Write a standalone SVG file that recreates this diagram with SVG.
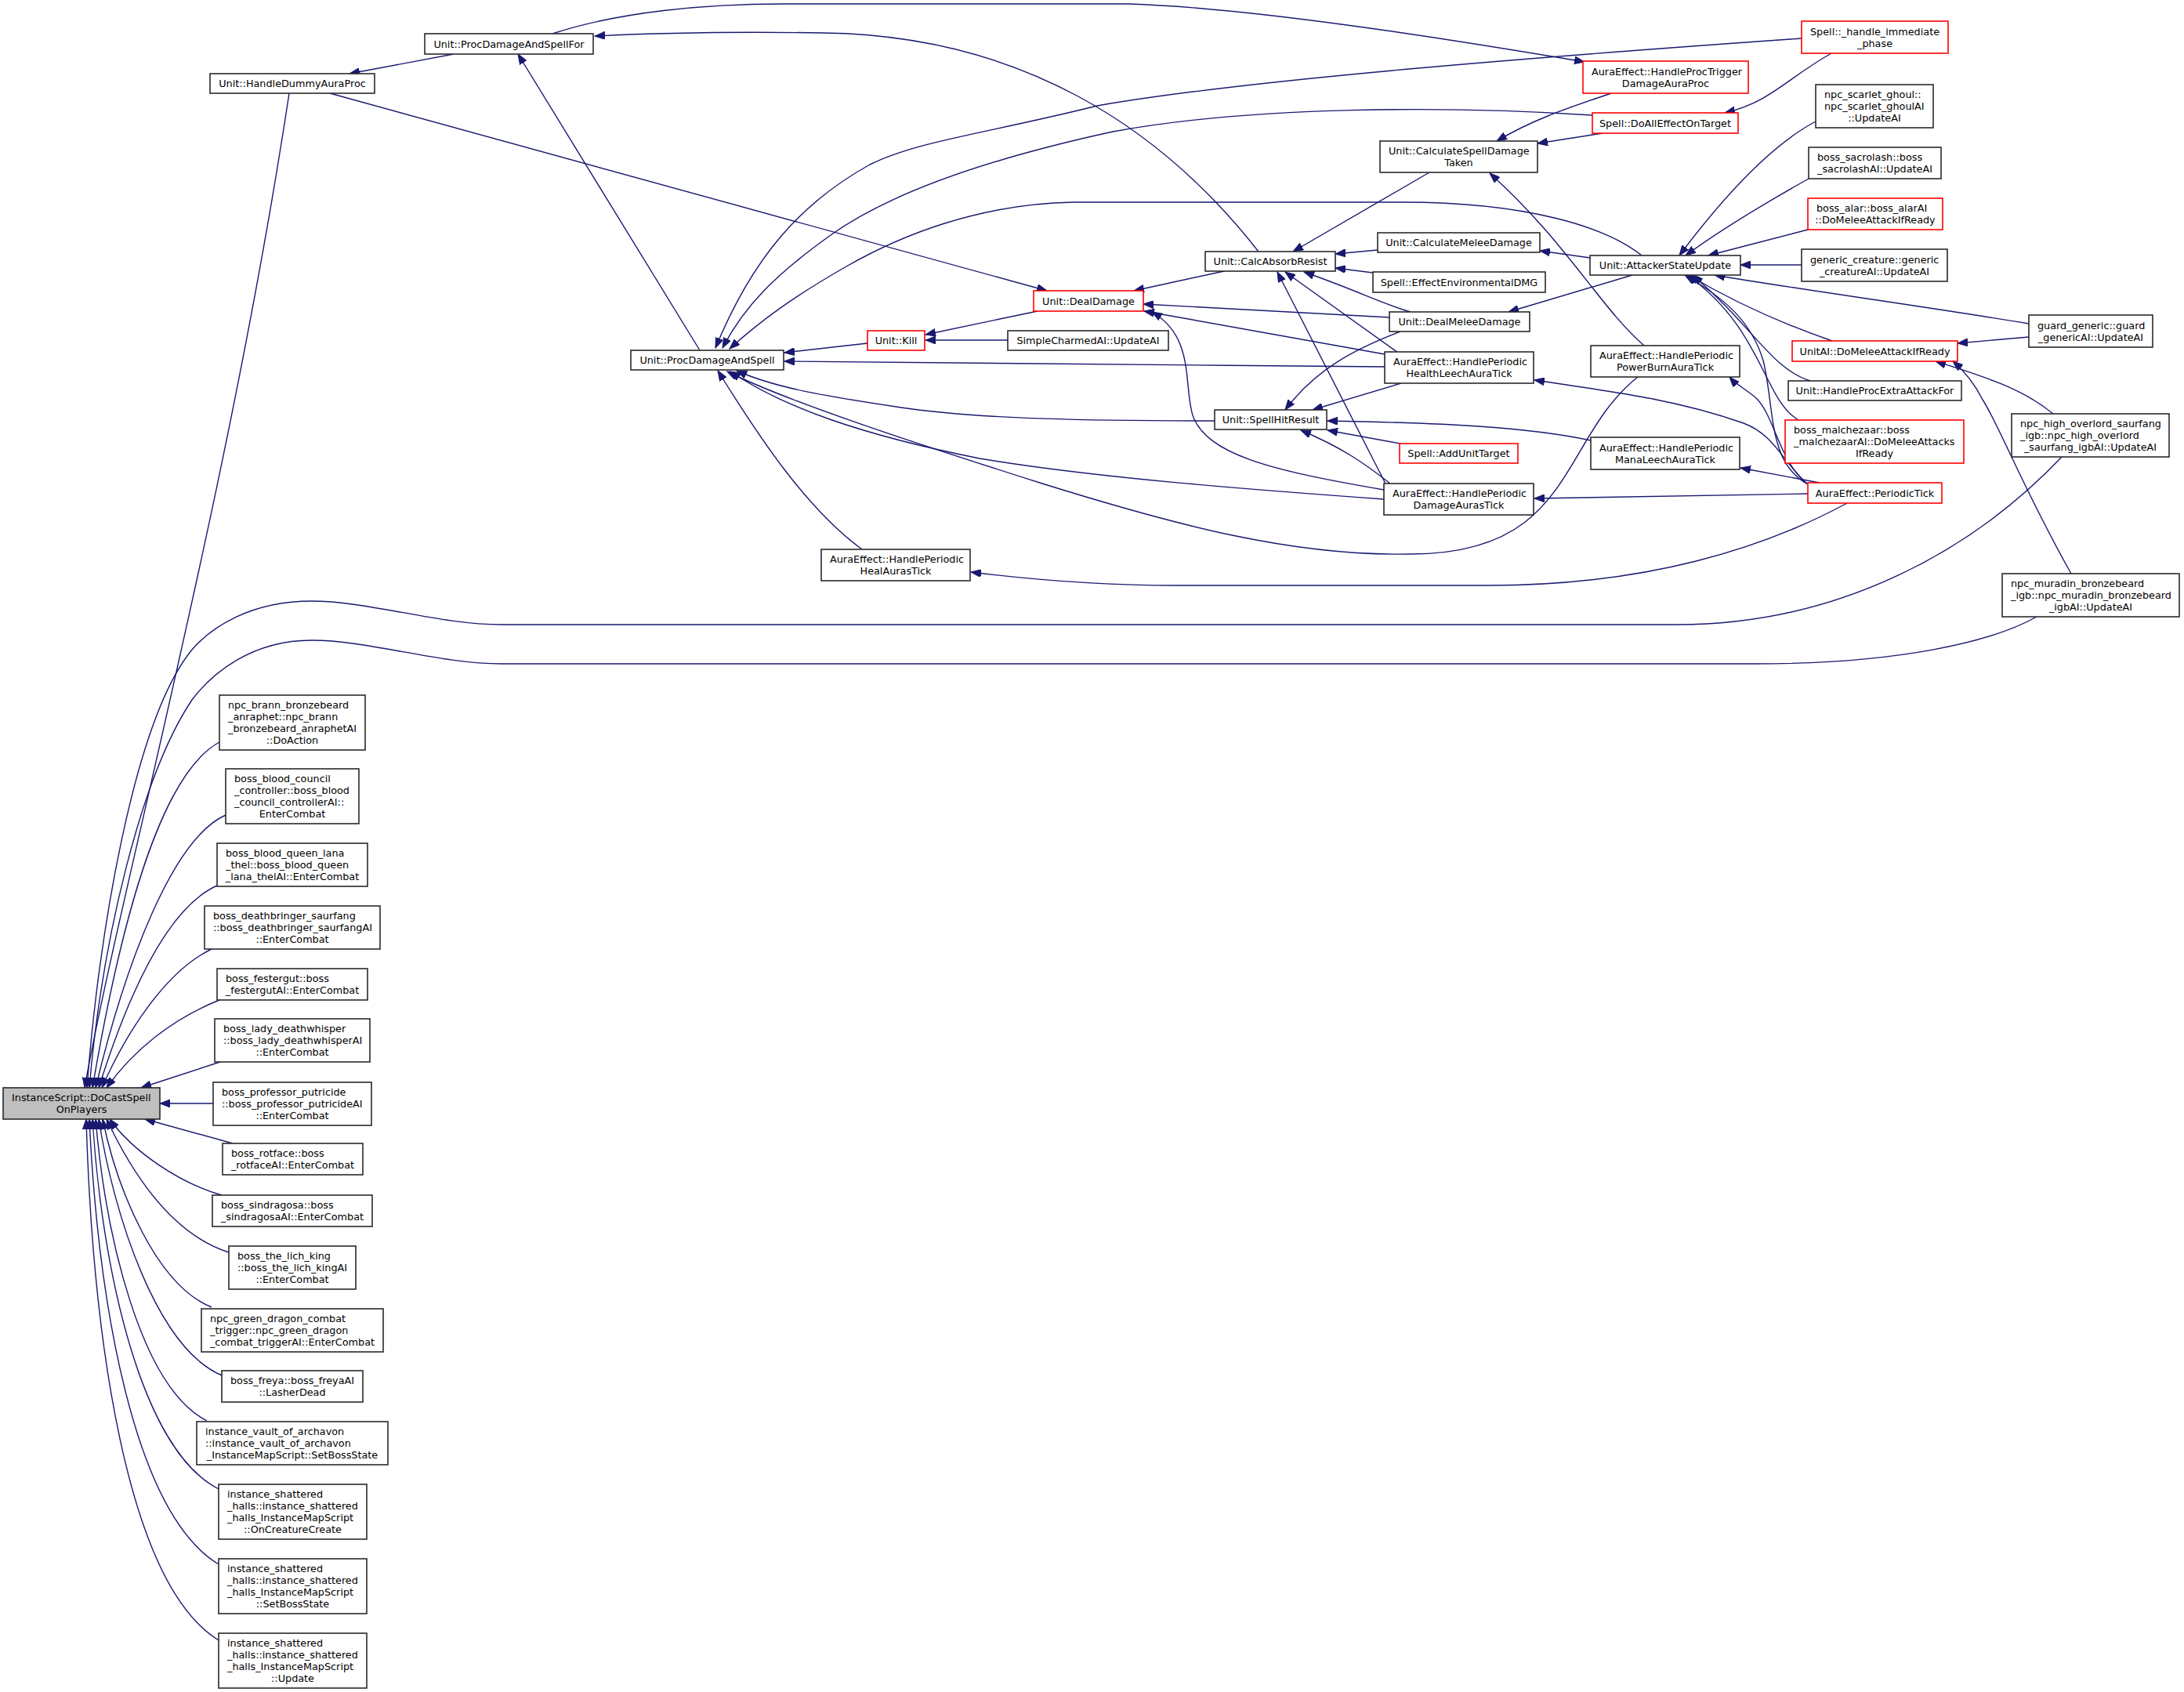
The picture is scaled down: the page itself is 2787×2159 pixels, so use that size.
<svg xmlns="http://www.w3.org/2000/svg" width="2787" height="2159" viewBox="0 0 2787 2159">
<style>
.n rect{fill:#fff;stroke:#2a2a2a;stroke-width:1.6}
.r rect{stroke:#ff0000}
.g rect{fill:#bfbfbf}
text{font-family:"DejaVu Sans","Liberation Sans",sans-serif;font-size:12.8px;fill:#000}
.c{text-anchor:middle}
#edges path{fill:none;stroke:#191970;stroke-width:1.4;marker-end:url(#a)}
</style>
<defs>
<marker id="a" markerWidth="14" markerHeight="10" refX="13" refY="5" orient="auto" markerUnits="userSpaceOnUse">
<path d="M0,0 L13,5 L0,10 z" fill="#191970" stroke="#191970" stroke-width="1"/>
</marker>
</defs>
<rect width="2787" height="2159" fill="#fff"/>
<g id="edges">
<path d="M369,119 C290,640 150,1150 108,1388"/>
<path d="M2631,583 C2520,700 2350,797 2140,797 L640,797 C560,797 470,767 398,767 C320,767 270,800 245,829 C170,920 125,1200 111,1388"/>
<path d="M2599,787 C2540,820 2420,847 2240,847 L640,847 C560,847 470,817 398,817 C320,817 270,860 245,893 C180,990 130,1200 114,1388"/>
<path d="M280,947 C200,990 150,1200 118,1388"/>
<path d="M288,1040 C220,1070 160,1230 122,1388"/>
<path d="M277,1130 C210,1160 160,1280 126,1388"/>
<path d="M270,1211 C210,1240 160,1320 130,1388"/>
<path d="M280,1276 C220,1300 170,1340 136,1388"/>
<path d="M281,1355 L180,1388"/>
<path d="M272,1408 L204,1408"/>
<path d="M297,1459 L185,1428"/>
<path d="M283,1525 C230,1510 170,1470 140,1428"/>
<path d="M292,1598 C220,1575 170,1500 136,1428"/>
<path d="M270,1668 C200,1640 150,1520 131,1428"/>
<path d="M283,1755 C200,1720 145,1550 126,1428"/>
<path d="M264,1813 C180,1770 135,1580 122,1428"/>
<path d="M279,1900 C180,1850 130,1620 118,1428"/>
<path d="M279,1996 C170,1930 125,1660 114,1428"/>
<path d="M279,2093 C160,2020 118,1700 110,1428"/>
<path d="M579,69 L446,94"/>
<path d="M705,43 C790,15 900,5 1000,5 L1440,5 C1600,10 1850,50 2022,79"/>
<path d="M1606,321 C1480,160 1300,45 1050,42 C920,40 840,42 759,46"/>
<path d="M893,447 L661,69"/>
<path d="M421,119 L1336,371"/>
<path d="M2299,49 C2000,70 1600,100 1400,135 C1260,170 1170,180 1110,210 C1020,260 960,330 913,444"/>
<path d="M2032,147 C1850,135 1600,135 1420,168 C1250,205 1130,250 1060,300 C990,350 950,390 922,444"/>
<path d="M2095,326 C2050,290 1950,258 1790,258 L1370,258 C1250,260 1150,300 1080,340 C1010,380 970,410 931,445"/>
<path d="M1107,438 L1001,450"/>
<path d="M1767,468 C1500,466 1200,462 1001,461"/>
<path d="M1550,537 C1400,537 1250,535 1150,520 C1050,505 990,495 940,473"/>
<path d="M1766,637 C1600,625 1400,610 1250,585 C1100,555 1000,520 932,474"/>
<path d="M2090,481 C1990,560 2010,707 1800,707 C1650,710 1500,670 1330,617 C1150,560 1000,510 928,474"/>
<path d="M1100,701 C1030,650 970,560 916,473"/>
<path d="M1324,397 L1181,427"/>
<path d="M1286,434 L1181,434"/>
<path d="M1562,346 L1447,371"/>
<path d="M1773,405 L1459,388"/>
<path d="M1767,452 L1460,397"/>
<path d="M1766,625 C1620,600 1540,580 1522,530 C1510,490 1525,430 1470,398"/>
<path d="M1824,220 L1650,321"/>
<path d="M1758,319 L1704,324"/>
<path d="M1752,348 L1704,342"/>
<path d="M1800,398 C1770,390 1730,370 1664,347"/>
<path d="M1784,450 L1640,347"/>
<path d="M1768,617 L1630,347"/>
<path d="M1787,423 C1730,445 1680,470 1640,523"/>
<path d="M1788,489 L1675,523"/>
<path d="M2030,562 C1950,545 1850,540 1694,537"/>
<path d="M1787,566 L1694,549"/>
<path d="M1774,617 C1740,590 1710,570 1660,549"/>
<path d="M2098,441 C2040,390 2000,310 1901,221"/>
<path d="M2056,119 C2010,135 1960,150 1910,180"/>
<path d="M2045,170 L1962,183"/>
<path d="M2337,68 C2280,100 2260,130 2201,144"/>
<path d="M2029,329 L1965,320"/>
<path d="M2083,351 L1925,398"/>
<path d="M2317,155 C2260,185 2200,250 2143,326"/>
<path d="M2308,228 C2260,255 2200,290 2151,326"/>
<path d="M2307,293 L2180,326"/>
<path d="M2299,338 L2221,338"/>
<path d="M2589,413 C2450,390 2300,370 2188,351"/>
<path d="M2338,435 C2280,415 2220,390 2155,351"/>
<path d="M2310,486 C2260,470 2240,420 2160,351"/>
<path d="M2295,536 C2250,510 2250,420 2153,351"/>
<path d="M2307,618 C2255,590 2265,520 2250,460 C2235,410 2200,380 2150,351"/>
<path d="M2307,618 C2270,590 2265,530 2240,507 C2225,495 2215,490 2207,481"/>
<path d="M2307,618 C2275,590 2265,555 2225,540 C2140,510 2060,500 1958,485"/>
<path d="M2322,616 L2221,597"/>
<path d="M2307,630 L1958,636"/>
<path d="M2357,642 C2250,700 2100,747 1900,747 L1500,747 C1400,747 1320,740 1239,730"/>
<path d="M2589,430 L2498,438"/>
<path d="M2620,528 C2580,495 2530,480 2470,461"/>
<path d="M2643,732 C2580,620 2550,540 2530,510 C2520,490 2505,472 2492,461"/>
</g>
<g id="n1" class="n g"><rect x="4" y="1388" width="200" height="40"/><text x="15" y="1405.1">InstanceScript::DoCastSpell</text><text class="c" x="104" y="1420.1">OnPlayers</text></g>
<g id="n2" class="n"><rect x="268" y="94" width="210" height="25"/><text class="c" x="373" y="111.1">Unit::HandleDummyAuraProc</text></g>
<g id="n3" class="n"><rect x="542" y="43" width="215" height="26"/><text class="c" x="649.5" y="60.6">Unit::ProcDamageAndSpellFor</text></g>
<g id="n4" class="n"><rect x="805" y="447" width="195" height="25"/><text class="c" x="902.5" y="464.1">Unit::ProcDamageAndSpell</text></g>
<g id="n5" class="n r"><rect x="2020" y="78" width="211" height="41"/><text x="2031" y="95.6">AuraEffect::HandleProcTrigger</text><text class="c" x="2125.5" y="110.6">DamageAuraProc</text></g>
<g id="n6" class="n r"><rect x="2299" y="27" width="187" height="41"/><text x="2310" y="44.6">Spell::_handle_immediate</text><text class="c" x="2392.5" y="59.6">_phase</text></g>
<g id="n7" class="n r"><rect x="2032" y="144" width="186" height="26"/><text class="c" x="2125" y="161.6">Spell::DoAllEffectOnTarget</text></g>
<g id="n8" class="n"><rect x="1761" y="180" width="201" height="40"/><text x="1772" y="197.1">Unit::CalculateSpellDamage</text><text class="c" x="1861.5" y="212.1">Taken</text></g>
<g id="n9" class="n"><rect x="1538" y="321" width="166" height="25"/><text class="c" x="1621" y="338.1">Unit::CalcAbsorbResist</text></g>
<g id="n10" class="n"><rect x="1758" y="297" width="207" height="25"/><text class="c" x="1861.5" y="314.1">Unit::CalculateMeleeDamage</text></g>
<g id="n11" class="n"><rect x="1752" y="347" width="220" height="26"/><text class="c" x="1862" y="364.6">Spell::EffectEnvironmentalDMG</text></g>
<g id="n12" class="n r"><rect x="1319" y="371" width="140" height="26"/><text class="c" x="1389" y="388.6">Unit::DealDamage</text></g>
<g id="n13" class="n r"><rect x="1107" y="422" width="73" height="25"/><text class="c" x="1143.5" y="439.1">Unit::Kill</text></g>
<g id="n14" class="n"><rect x="1286" y="422" width="205" height="25"/><text class="c" x="1388.5" y="439.1">SimpleCharmedAI::UpdateAI</text></g>
<g id="n15" class="n"><rect x="1773" y="398" width="179" height="25"/><text class="c" x="1862.5" y="415.1">Unit::DealMeleeDamage</text></g>
<g id="n16" class="n"><rect x="1767" y="449" width="190" height="40"/><text x="1778" y="466.1">AuraEffect::HandlePeriodic</text><text class="c" x="1862" y="481.1">HealthLeechAuraTick</text></g>
<g id="n17" class="n"><rect x="1550" y="523" width="143" height="25"/><text class="c" x="1621.5" y="540.1">Unit::SpellHitResult</text></g>
<g id="n18" class="n r"><rect x="1786" y="566" width="151" height="25"/><text class="c" x="1861.5" y="583.1">Spell::AddUnitTarget</text></g>
<g id="n19" class="n"><rect x="1766" y="617" width="191" height="40"/><text x="1777" y="634.1">AuraEffect::HandlePeriodic</text><text class="c" x="1861.5" y="649.1">DamageAurasTick</text></g>
<g id="n20" class="n"><rect x="1048" y="701" width="190" height="40"/><text x="1059" y="718.1">AuraEffect::HandlePeriodic</text><text class="c" x="1143" y="733.1">HealAurasTick</text></g>
<g id="n21" class="n"><rect x="2030" y="441" width="190" height="40"/><text x="2041" y="458.1">AuraEffect::HandlePeriodic</text><text class="c" x="2125" y="473.1">PowerBurnAuraTick</text></g>
<g id="n22" class="n"><rect x="2030" y="558" width="190" height="41"/><text x="2041" y="575.6">AuraEffect::HandlePeriodic</text><text class="c" x="2125" y="590.6">ManaLeechAuraTick</text></g>
<g id="n23" class="n r"><rect x="2307" y="616" width="171" height="26"/><text class="c" x="2392.5" y="633.6">AuraEffect::PeriodicTick</text></g>
<g id="n24" class="n"><rect x="2029" y="326" width="192" height="25"/><text class="c" x="2125" y="343.1">Unit::AttackerStateUpdate</text></g>
<g id="n25" class="n"><rect x="2317" y="108" width="150" height="55"/><text x="2328" y="125.1">npc_scarlet_ghoul::</text><text x="2328" y="140.1">npc_scarlet_ghoulAI</text><text class="c" x="2392" y="155.1">::UpdateAI</text></g>
<g id="n26" class="n"><rect x="2308" y="188" width="169" height="40"/><text x="2319" y="205.1">boss_sacrolash::boss</text><text class="c" x="2392.5" y="220.1">_sacrolashAI::UpdateAI</text></g>
<g id="n27" class="n r"><rect x="2307" y="253" width="172" height="40"/><text x="2318" y="270.1">boss_alar::boss_alarAI</text><text class="c" x="2393" y="285.1">::DoMeleeAttackIfReady</text></g>
<g id="n28" class="n"><rect x="2299" y="318" width="186" height="41"/><text x="2310" y="335.6">generic_creature::generic</text><text class="c" x="2392" y="350.6">_creatureAI::UpdateAI</text></g>
<g id="n29" class="n"><rect x="2589" y="402" width="158" height="41"/><text x="2600" y="419.6">guard_generic::guard</text><text class="c" x="2668" y="434.6">_genericAI::UpdateAI</text></g>
<g id="n30" class="n r"><rect x="2287" y="435" width="211" height="26"/><text class="c" x="2392.5" y="452.6">UnitAI::DoMeleeAttackIfReady</text></g>
<g id="n31" class="n"><rect x="2282" y="486" width="221" height="25"/><text class="c" x="2392.5" y="503.1">Unit::HandleProcExtraAttackFor</text></g>
<g id="n32" class="n r"><rect x="2278" y="536" width="228" height="55"/><text x="2289" y="553.1">boss_malchezaar::boss</text><text x="2289" y="568.1">_malchezaarAI::DoMeleeAttacks</text><text class="c" x="2392" y="583.1">IfReady</text></g>
<g id="n33" class="n"><rect x="2567" y="528" width="201" height="55"/><text x="2578" y="545.1">npc_high_overlord_saurfang</text><text x="2578" y="560.1">_igb::npc_high_overlord</text><text class="c" x="2667.5" y="575.1">_saurfang_igbAI::UpdateAI</text></g>
<g id="n34" class="n"><rect x="2555" y="732" width="226" height="55"/><text x="2566" y="749.1">npc_muradin_bronzebeard</text><text x="2566" y="764.1">_igb::npc_muradin_bronzebeard</text><text class="c" x="2668" y="779.1">_igbAI::UpdateAI</text></g>
<g id="n35" class="n"><rect x="280" y="887" width="186" height="70"/><text x="291" y="904.1">npc_brann_bronzebeard</text><text x="291" y="919.1">_anraphet::npc_brann</text><text x="291" y="934.1">_bronzebeard_anraphetAI</text><text class="c" x="373" y="949.1">::DoAction</text></g>
<g id="n36" class="n"><rect x="288" y="981" width="170" height="70"/><text x="299" y="998.1">boss_blood_council</text><text x="299" y="1013.1">_controller::boss_blood</text><text x="299" y="1028.1">_council_controllerAI::</text><text class="c" x="373" y="1043.1">EnterCombat</text></g>
<g id="n37" class="n"><rect x="277" y="1076" width="192" height="55"/><text x="288" y="1093.1">boss_blood_queen_lana</text><text x="288" y="1108.1">_thel::boss_blood_queen</text><text class="c" x="373" y="1123.1">_lana_thelAI::EnterCombat</text></g>
<g id="n38" class="n"><rect x="261" y="1156" width="224" height="55"/><text x="272" y="1173.1">boss_deathbringer_saurfang</text><text x="272" y="1188.1">::boss_deathbringer_saurfangAI</text><text class="c" x="373" y="1203.1">::EnterCombat</text></g>
<g id="n39" class="n"><rect x="277" y="1236" width="192" height="40"/><text x="288" y="1253.1">boss_festergut::boss</text><text class="c" x="373" y="1268.1">_festergutAI::EnterCombat</text></g>
<g id="n40" class="n"><rect x="274" y="1300" width="198" height="55"/><text x="285" y="1317.1">boss_lady_deathwhisper</text><text x="285" y="1332.1">::boss_lady_deathwhisperAI</text><text class="c" x="373" y="1347.1">::EnterCombat</text></g>
<g id="n41" class="n"><rect x="272" y="1381" width="202" height="55"/><text x="283" y="1398.1">boss_professor_putricide</text><text x="283" y="1413.1">::boss_professor_putricideAI</text><text class="c" x="373" y="1428.1">::EnterCombat</text></g>
<g id="n42" class="n"><rect x="284" y="1459" width="179" height="40"/><text x="295" y="1476.1">boss_rotface::boss</text><text class="c" x="373.5" y="1491.1">_rotfaceAI::EnterCombat</text></g>
<g id="n43" class="n"><rect x="271" y="1525" width="204" height="40"/><text x="282" y="1542.1">boss_sindragosa::boss</text><text class="c" x="373" y="1557.1">_sindragosaAI::EnterCombat</text></g>
<g id="n44" class="n"><rect x="292" y="1590" width="162" height="55"/><text x="303" y="1607.1">boss_the_lich_king</text><text x="303" y="1622.1">::boss_the_lich_kingAI</text><text class="c" x="373" y="1637.1">::EnterCombat</text></g>
<g id="n45" class="n"><rect x="257" y="1670" width="232" height="55"/><text x="268" y="1687.1">npc_green_dragon_combat</text><text x="268" y="1702.1">_trigger::npc_green_dragon</text><text class="c" x="373" y="1717.1">_combat_triggerAI::EnterCombat</text></g>
<g id="n46" class="n"><rect x="283" y="1749" width="180" height="40"/><text x="294" y="1766.1">boss_freya::boss_freyaAI</text><text class="c" x="373" y="1781.1">::LasherDead</text></g>
<g id="n47" class="n"><rect x="251" y="1814" width="244" height="55"/><text x="262" y="1831.1">instance_vault_of_archavon</text><text x="262" y="1846.1">::instance_vault_of_archavon</text><text class="c" x="373" y="1861.1">_InstanceMapScript::SetBossState</text></g>
<g id="n48" class="n"><rect x="279" y="1894" width="189" height="70"/><text x="290" y="1911.1">instance_shattered</text><text x="290" y="1926.1">_halls::instance_shattered</text><text x="290" y="1941.1">_halls_InstanceMapScript</text><text class="c" x="373.5" y="1956.1">::OnCreatureCreate</text></g>
<g id="n49" class="n"><rect x="279" y="1989" width="189" height="70"/><text x="290" y="2006.1">instance_shattered</text><text x="290" y="2021.1">_halls::instance_shattered</text><text x="290" y="2036.1">_halls_InstanceMapScript</text><text class="c" x="373.5" y="2051.1">::SetBossState</text></g>
<g id="n50" class="n"><rect x="279" y="2084" width="189" height="70"/><text x="290" y="2101.1">instance_shattered</text><text x="290" y="2116.1">_halls::instance_shattered</text><text x="290" y="2131.1">_halls_InstanceMapScript</text><text class="c" x="373.5" y="2146.1">::Update</text></g>
</svg>
